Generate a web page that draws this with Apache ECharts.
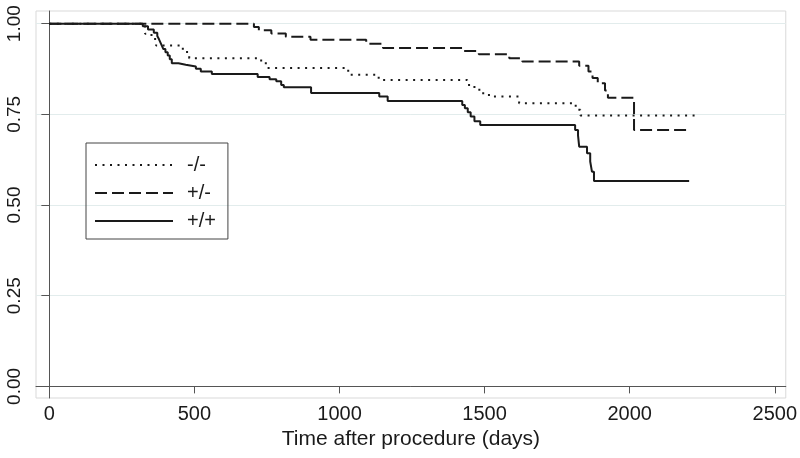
<!DOCTYPE html>
<html><head><meta charset="utf-8">
<script src="https://cdn.jsdelivr.net/npm/echarts@6/dist/echarts.min.js"></script>
<style>html,body{margin:0;padding:0;background:#fff}#c{width:800px;height:458px}</style>
</head><body><div id="c"></div>
<script>
// Group names
const groupNames = ['-/-', '+/-', '+/+'];
// Tick labels
const xTicks = [0, 500, 1000, 1500, 2000, 2500];
const yTicks = [0, 0.25, 0.5, 0.75, 1];
const xTitle = 'Time after procedure (days)';

// -/- (dotted)
const negNegDays = [0,330,352,368,460,482,730,750,1030,1135,1440,1465,1490,1515,1619,1814,1830,2238];
const negNegSurv = [1.0,0.972,0.958,0.940,0.922,0.905,0.891,0.878,0.859,0.845,0.831,0.818,0.808,0.799,0.781,0.763,0.747,0.747];
// +/- (dashed)
const posNegDays = [0,705,722,765,815,900,1092,1150,1425,1480,1585,1630,1826,1858,1872,1890,1915,1925,2015,2210];
const posNegSurv = [1.0,0.991,0.982,0.973,0.964,0.956,0.945,0.933,0.925,0.916,0.905,0.896,0.884,0.868,0.850,0.836,0.816,0.796,0.707,0.707];
// +/+ (solid)
const posPosDays = [0,322,340,360,372,378,383,388,393,400,408,415,422,445,470,505,522,560,718,759,782,799,808,902,1137,1166,1423,1432,1442,1452,1465,1485,1527,1812,1822,1826,1853,1864,1870,1877,2205];
const posPosSurv = [1.0,0.993,0.984,0.975,0.966,0.957,0.948,0.939,0.930,0.921,0.912,0.902,0.891,0.887,0.882,0.876,0.868,0.861,0.853,0.847,0.841,0.831,0.825,0.809,0.799,0.787,0.776,0.767,0.756,0.744,0.731,0.721,0.721,0.707,0.692,0.661,0.643,0.620,0.592,0.566,0.566];

const zip = (a, b) => a.map((v, i) => [v, b[i]]);
const FONT = 'Liberation Sans, Arial, sans-serif';
const INK = '#1a1a1a';

const chart = echarts.init(document.getElementById('c'), null, {renderer: 'canvas'});
function mk(name, days, surv, type) {
  return {
    name, type: 'line', step: 'end', symbol: 'none', animation: false,
    data: zip(days, surv),
    lineStyle: {color: INK, width: 2, type: type, cap: 'butt'},
    itemStyle: {color: INK}
  };
}
chart.setOption({
  backgroundColor: '#fff',
  animation: false,
  grid: {left: 36, right: 13, top: 11, bottom: 60, show: true, borderColor: '#d9d9d9', borderWidth: 1},
  legend: {
    orient: 'vertical', left: 86, top: 143,
    itemWidth: 78, itemHeight: 14, itemGap: 8,
    padding: [12, 12, 8, 8],
    borderColor: '#444', borderWidth: 1,
    data: groupNames,
    itemStyle: {opacity: 0},
    textStyle: {fontFamily: FONT, fontSize: 20, color: INK, lineHeight: 14, padding: [0, 0, 0, 9]}
  },
  xAxis: {
    type: 'value', min: -46, max: 2538,
    name: xTitle, nameLocation: 'middle', nameGap: 31,
    nameTextStyle: {fontFamily: FONT, fontSize: 21, color: INK},
    axisLine: {show: true, lineStyle: {color: '#555', width: 1}},
    axisTick: {show: true, length: 7, lineStyle: {color: '#555'}, customValues: xTicks},
    axisLabel: {fontFamily: FONT, fontSize: 20, color: INK, margin: 6, customValues: xTicks,
      formatter: v => String(v)},
    splitLine: {show: false}
  },
  yAxis: {
    type: 'value', min: -0.032, max: 1.035,
    axisLine: {show: true, lineStyle: {color: '#555', width: 1}},
    axisTick: {show: true, length: 8, lineStyle: {color: '#555'}, customValues: yTicks},
    axisLabel: {fontFamily: FONT, fontSize: 19, color: INK, rotate: 90, margin: 12,
      customValues: yTicks, formatter: v => v.toFixed(2)},
    splitLine: {show: true, lineStyle: {color: '#e2ecec', width: 1}}
  },
  series: [
    mk(groupNames[0], negNegDays, negNegSurv, [2, 5.5]),
    mk(groupNames[1], posNegDays, posNegSurv, [12, 5]),
    mk(groupNames[2], posPosDays, posPosSurv, 'solid')
  ]
});
</script></body></html>
